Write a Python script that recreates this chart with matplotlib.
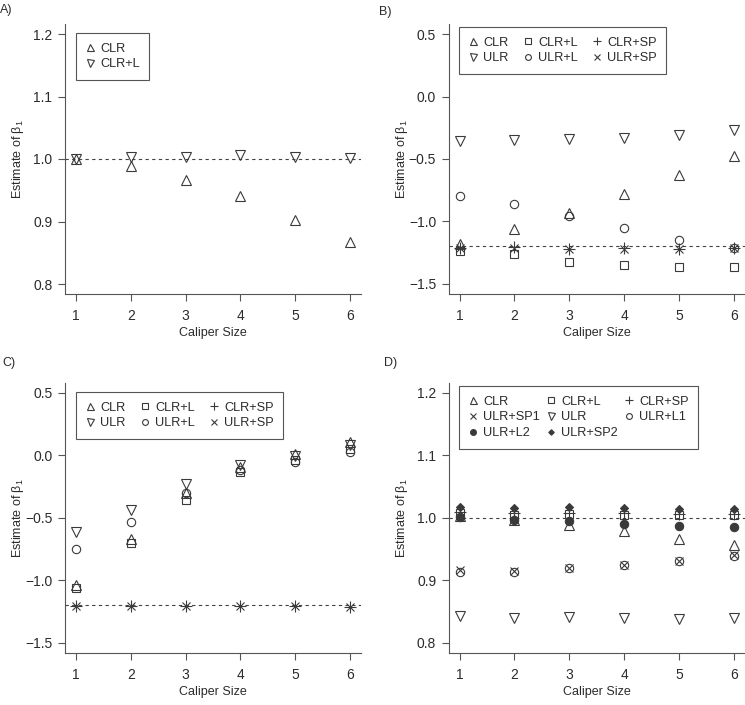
import matplotlib
matplotlib.use("Agg")
import matplotlib.pyplot as plt

plt.rcParams['font.family'] = ['Liberation Sans', 'DejaVu Sans']

caliper = [1, 2, 3, 4, 5, 6]

# Panel A
a_clr = [1.000, 0.989, 0.966, 0.941, 0.903, 0.867]
a_clr_l = [1.000, 1.003, 1.004, 1.007, 1.004, 1.002]

# Panel B
b_clr = [-1.181, -1.061, -0.935, -0.779, -0.627, -0.480]
b_ulr = [-0.355, -0.349, -0.344, -0.331, -0.307, -0.267]
b_clr_l = [-1.235, -1.263, -1.323, -1.349, -1.368, -1.362]
b_ulr_l = [-0.800, -0.864, -0.955, -1.055, -1.147, -1.210]
b_clr_sp = [-1.214, -1.207, -1.220, -1.216, -1.218, -1.210]
b_ulr_sp = [-1.216, -1.209, -1.221, -1.217, -1.220, -1.212]

# Panel C
c_clr = [-1.040, -0.672, -0.300, -0.093, 0.013, 0.105]
c_ulr = [-0.613, -0.435, -0.232, -0.080, -0.008, 0.080]
c_clr_l = [-1.060, -0.703, -0.355, -0.133, -0.035, 0.053]
c_ulr_l = [-0.752, -0.533, -0.303, -0.120, -0.053, 0.027]
c_clr_sp = [-1.203, -1.203, -1.203, -1.205, -1.208, -1.213]
c_ulr_sp = [-1.204, -1.204, -1.204, -1.206, -1.209, -1.214]

# Panel D
d_clr = [1.003, 0.997, 0.989, 0.978, 0.966, 0.956]
d_clr_l = [1.007, 1.004, 1.006, 1.005, 1.004, 1.004]
d_clr_sp = [1.009, 1.007, 1.008, 1.007, 1.006, 1.006]
d_ulr_sp1 = [0.916, 0.915, 0.919, 0.924, 0.930, 0.940]
d_ulr = [0.843, 0.840, 0.841, 0.840, 0.838, 0.840]
d_ulr_l1 = [0.913, 0.913, 0.919, 0.924, 0.930, 0.938]
d_ulr_l2 = [1.001, 0.996, 0.995, 0.990, 0.987, 0.985]
d_ulr_sp2 = [1.017, 1.015, 1.017, 1.016, 1.014, 1.014]

MC = '#3a3a3a'
TC = '#2b2b2b'
AC = '#555555'

shapes = {
    'tri_up': dict(marker='^', ms=7.2, mfc='none'),
    'tri_down': dict(marker='v', ms=7.2, mfc='none'),
    'square': dict(marker='s', ms=5.8, mfc='none'),
    'circle': dict(marker='o', ms=6, mfc='none'),
    'plus': dict(marker='+', ms=8),
    'cross': dict(marker='x', ms=6),
    'dot': dict(marker='o', ms=6, mfc=MC),
    'diamond': dict(marker='D', ms=4, mfc=MC),
}

fig = plt.figure(figsize=(7.45, 7.05), dpi=100)
W, H = 745.0, 705.0


def make_ax(left, top, right, bottom):
    return fig.add_axes([left / W, 1 - bottom / H, (right - left) / W, (bottom - top) / H])


def style_ax(ax, ylim, yticks, ylabels, ref):
    ax.set_xlim(0.8, 6.2)
    ax.set_ylim(*ylim)
    ax.spines['top'].set_visible(False)
    ax.spines['right'].set_visible(False)
    for s in ('left', 'bottom'):
        ax.spines[s].set_color(AC)
        ax.spines[s].set_linewidth(0.8)
    ax.set_xticks(caliper)
    ax.set_xticklabels([str(c) for c in caliper])
    ax.set_yticks(yticks)
    ax.set_yticklabels(ylabels)
    ax.tick_params(axis='both', direction='out', length=5, width=0.8, color=AC,
                   labelsize=10, labelcolor=TC)
    ax.tick_params(axis='y', pad=4)
    ax.tick_params(axis='x', pad=6)
    ax.axhline(ref, color='#444444', lw=0.8, ls=(0, (3, 3)), zorder=1)
    ax.set_xlabel('Caliper Size', fontsize=9, color=TC)
    ax.xaxis.set_label_coords(0.5, -0.144)
    ax.xaxis.label.set_verticalalignment('center')
    ax.set_ylabel(r'Estimate of $\mathregular{\beta_1}$', fontsize=9, color=TC)
    ax.yaxis.set_label_coords(-0.159, 0.5)
    ax.yaxis.label.set_verticalalignment('center')


def plot_series(ax, series):
    handles = []
    for name, shape, vals in series:
        st = dict(shapes[shape])
        h, = ax.plot(caliper, vals, ls='none', color=MC, mec=MC, mew=0.8, label=name, zorder=3, **st)
        handles.append(h)
    return handles


def add_legend(handles, labels, ncol, anchor, colsp):
    leg = fig.legend(handles, labels, loc='upper left',
                     bbox_to_anchor=(anchor[0] / W, 1 - anchor[1] / H),
                     ncol=ncol, fontsize=9.2, frameon=True, fancybox=False,
                     edgecolor=AC, framealpha=1, borderaxespad=0,
                     handlelength=0.7, handletextpad=0.45, columnspacing=colsp,
                     labelspacing=0.3, borderpad=0.75, markerscale=0.7)
    leg.get_frame().set_linewidth(0.8)
    for t in leg.get_texts():
        t.set_color(TC)
    return leg


# Panel A
axA = make_ax(65, 24, 361, 294)
style_ax(axA, (0.784, 1.216), [0.8, 0.9, 1.0, 1.1, 1.2], ['0.8', '0.9', '1.0', '1.1', '1.2'], 1.0)
hA = plot_series(axA, [('CLR', 'tri_up', a_clr), ('CLR+L', 'tri_down', a_clr_l)])
add_legend(hA, ['CLR', 'CLR+L'], 1, (76, 33), 0.5)

bc_ticks = [-1.5, -1.0, -0.5, 0.0, 0.5]
bc_labels = ['\u22121.5', '\u22121.0', '\u22120.5', '0.0', '0.5']

# Panel B
axB = make_ax(448.7, 24, 744.7, 294)
style_ax(axB, (-1.58, 0.58), bc_ticks, bc_labels, -1.2)
hB = plot_series(axB, [('CLR', 'tri_up', b_clr), ('ULR', 'tri_down', b_ulr),
                       ('CLR+L', 'square', b_clr_l), ('ULR+L', 'circle', b_ulr_l),
                       ('CLR+SP', 'plus', b_clr_sp), ('ULR+SP', 'cross', b_ulr_sp)])
add_legend(hB, ['CLR', 'ULR', 'CLR+L', 'ULR+L', 'CLR+SP', 'ULR+SP'], 3, (459, 27), 1.15)

# Panel C
axC = make_ax(65, 382.7, 361, 652.7)
style_ax(axC, (-1.58, 0.58), bc_ticks, bc_labels, -1.2)
hC = plot_series(axC, [('CLR', 'tri_up', c_clr), ('ULR', 'tri_down', c_ulr),
                       ('CLR+L', 'square', c_clr_l), ('ULR+L', 'circle', c_ulr_l),
                       ('CLR+SP', 'plus', c_clr_sp), ('ULR+SP', 'cross', c_ulr_sp)])
add_legend(hC, ['CLR', 'ULR', 'CLR+L', 'ULR+L', 'CLR+SP', 'ULR+SP'], 3, (76, 392), 1.15)

# Panel D
axD = make_ax(448.7, 382.7, 744.7, 652.7)
style_ax(axD, (0.784, 1.216), [0.8, 0.9, 1.0, 1.1, 1.2], ['0.8', '0.9', '1.0', '1.1', '1.2'], 1.0)
hD = plot_series(axD, [('CLR', 'tri_up', d_clr), ('ULR+SP1', 'cross', d_ulr_sp1),
                       ('ULR+L2', 'dot', d_ulr_l2), ('CLR+L', 'square', d_clr_l),
                       ('ULR', 'tri_down', d_ulr), ('ULR+SP2', 'diamond', d_ulr_sp2),
                       ('CLR+SP', 'plus', d_clr_sp), ('ULR+L1', 'circle', d_ulr_l1)])
add_legend(hD, ['CLR', 'ULR+SP1', 'ULR+L2', 'CLR+L', 'ULR', 'ULR+SP2', 'CLR+SP', 'ULR+L1'],
           3, (459, 386), 0.5)

# Panel letters
for lab, x, y in [('A)', 0, 10), ('B)', 379, 12), ('C)', 2, 363), ('D)', 384, 363)]:
    fig.text(x / W, 1 - y / H, lab, fontsize=9, color=TC, ha='left', va='center')

fig.savefig('out.png', dpi=100)
